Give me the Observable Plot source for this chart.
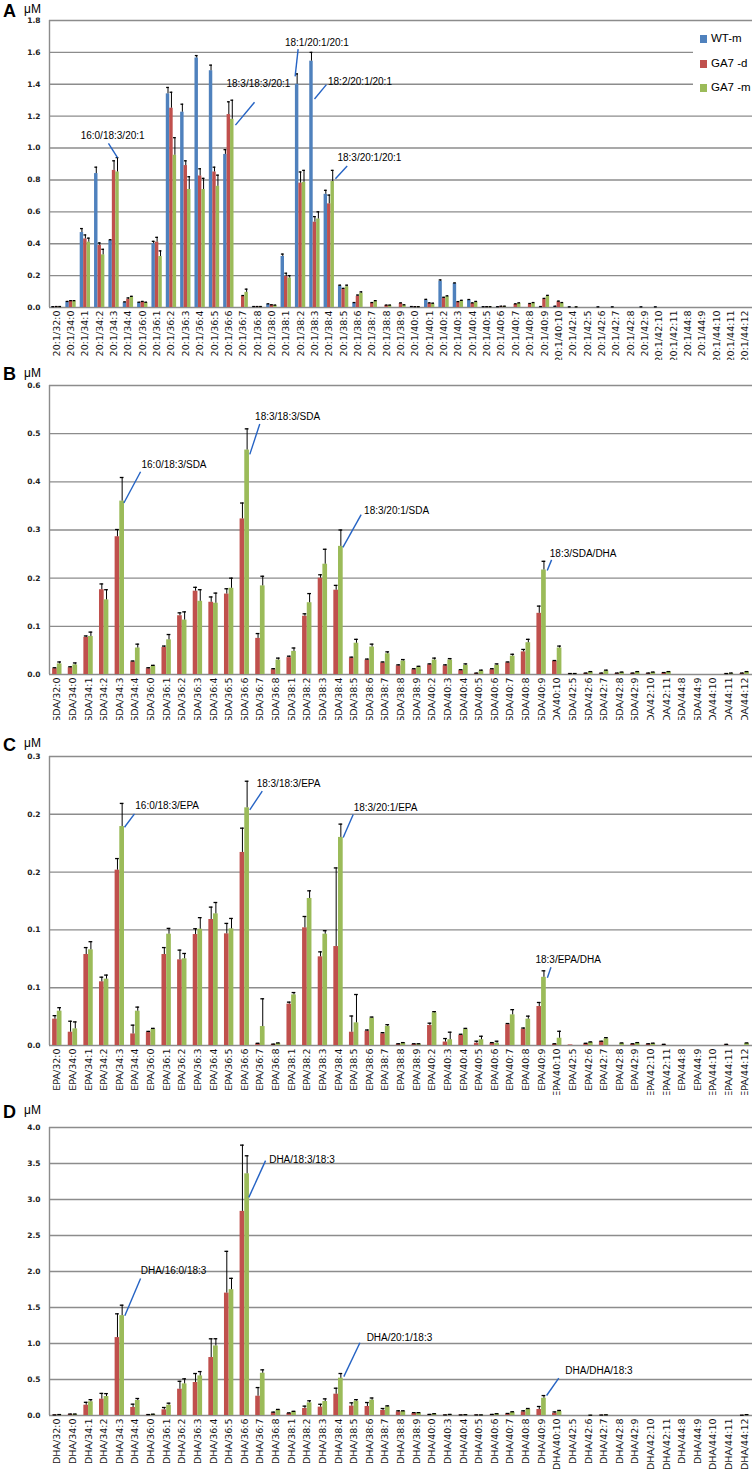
<!DOCTYPE html>
<html><head><meta charset="utf-8">
<script src="https://cdn.jsdelivr.net/npm/d3@7"></script>
<script src="https://cdn.jsdelivr.net/npm/@observablehq/plot@0.6"></script>
<style>
body{margin:0;background:#fff;width:754px;overflow:hidden;}
.panel{position:relative;width:754px;}
.letter{position:absolute;left:3px;font:bold 18px "Liberation Sans",Arial,sans-serif;line-height:18px;color:#000;}
.unit{position:absolute;left:24px;font:12px "Liberation Sans",Arial,sans-serif;line-height:12px;color:#000;}
.legend{position:absolute;left:693px;top:25px;width:61px;height:74px;background:#fff;}
.legend .row{position:absolute;left:7px;font:11.5px "Liberation Sans",Arial,sans-serif;line-height:12px;white-space:nowrap;}
.legend .sw{display:inline-block;width:7px;height:8px;margin-right:4px;vertical-align:-1px;}
</style></head><body><div id="chart"></div>
<script>
// ---------- Panel A (20:1 TAGs) ----------
const prefixA = "20:1/";
const catsA = ["32:0","34:0","34:1","34:2","34:3","34:4","36:0","36:1","36:2","36:3","36:4","36:5","36:6","36:7","36:8","38:0","38:1","38:2","38:3","38:4","38:5","38:6","38:7","38:8","38:9","40:0","40:1","40:2","40:3","40:4","40:5","40:6","40:7","40:8","40:9","40:10","42:4","42:5","42:6","42:7","42:8","42:9","42:10","42:11","44:8","44:9","44:10","44:11","44:12"];
const wtA    = [0.003,0.035,0.47,0.84,0.42,0.03,0.03,0.40,1.34,1.225,1.565,1.485,0.96,0,0.004,0.02,0.32,1.40,1.545,0.71,0.135,0.028,0,0,0,0.004,0.046,0.165,0.15,0.046,0.003,0.003,0,0,0.004,0.006,0.002,0,0.002,0.002,0,0.002,0.002,0,0,0,0,0,0];
const wtAErr = [0.002,0.003,0.025,0.04,0.005,0.005,0.003,0.015,0.04,0.05,0.015,0.035,0.03,0,0.002,0.003,0.015,0.065,0.055,0.025,0.005,0.003,0,0,0,0.002,0.005,0.008,0.004,0.004,0.002,0.002,0,0,0.002,0.002,0.002,0,0.002,0.002,0,0.002,0.002,0,0,0,0,0,0];
const dA     = [0.004,0.04,0.43,0.39,0.86,0.052,0.035,0.41,1.25,0.89,0.825,0.85,1.21,0.07,0.004,0.015,0.195,0.78,0.535,0.65,0.115,0.07,0.028,0.013,0.025,0.003,0.025,0.058,0.034,0.025,0.003,0.006,0.019,0.021,0.053,0.036,0,0,0,0,0,0,0,0,0,0,0,0,0];
const dAErr  = [0.002,0.003,0.025,0.015,0.06,0.008,0.003,0.03,0.10,0.03,0.045,0.03,0.08,0.005,0.002,0.002,0.02,0.07,0.035,0.055,0.005,0.008,0.003,0.002,0.004,0.002,0.004,0.006,0.003,0.004,0.002,0.002,0.004,0.004,0.004,0.004,0,0,0,0,0,0,0,0,0,0,0,0,0];
const mA     = [0.004,0.04,0.41,0.33,0.85,0.065,0.03,0.32,0.955,0.74,0.74,0.76,1.18,0.095,0.004,0.013,0.185,0.785,0.555,0.79,0.13,0.09,0.04,0.013,0.015,0.003,0.023,0.068,0.042,0.034,0.003,0.006,0.025,0.027,0.07,0.027,0.002,0,0,0,0,0,0,0,0,0,0,0,0];
const mAErr  = [0.002,0.003,0.025,0.035,0.09,0.005,0.003,0.035,0.11,0.08,0.07,0.07,0.12,0.02,0.002,0.002,0.015,0.075,0.045,0.07,0.01,0.008,0.003,0.002,0.002,0.002,0.004,0.005,0.003,0.004,0.002,0.002,0.004,0.004,0.006,0.004,0.002,0,0,0,0,0,0,0,0,0,0,0,0];
const ticksA = [0,0.2,0.4,0.6,0.8,1.0,1.2,1.4,1.6,1.8];
const tickLabelsA = ["0.0","0.2","0.4","0.6","0.8","1.0","1.2","1.4","1.6","1.8"];
const annLabelsA = ["16:0/18:3/20:1","18:3/18:3/20:1","18:1/20:1/20:1","18:2/20:1/20:1","18:3/20:1/20:1"];
const annTextA = [[3.9,1.075],[14.06,1.406],[18.14,1.66],[21.14,1.4125],[21.8,0.9375]];
const annLineA = [[3.61,1.03,4.24,0.94],[13.79,1.2875,12.46,1.144],[16.83,1.62,16.62,1.45],[18.8,1.398,17.97,1.308],[20.25,0.8875,19.43,0.808]];

// ---------- Panels B, C (SDA / EPA TAGs) ----------
const prefixB = "SDA/";
const prefixC = "EPA/";
const catsBC = ["32:0","34:0","34:1","34:2","34:3","34:4","36:0","36:1","36:2","36:3","36:4","36:5","36:6","36:7","36:8","38:1","38:2","38:3","38:4","38:5","38:6","38:7","38:8","38:9","40:2","40:3","40:4","40:5","40:6","40:7","40:8","40:9","40:10","42:5","42:6","42:7","42:8","42:9","42:10","42:11","44:8","44:9","44:10","44:11","44:12"];
const dB    = [0.012,0.014,0.077,0.176,0.286,0.026,0.012,0.056,0.122,0.173,0.150,0.167,0.323,0.075,0.010,0.035,0.121,0.200,0.175,0.034,0.030,0.024,0.018,0.010,0.020,0.018,0.008,0.002,0.010,0.024,0.047,0.127,0.027,0.001,0.002,0.002,0.002,0.002,0.002,0.003,0,0,0,0.001,0.002];
const dBErr = [0.002,0.002,0.003,0.012,0.015,0.002,0.002,0.003,0.006,0.008,0.011,0.011,0.033,0.010,0.002,0.003,0.005,0.007,0.010,0.002,0.002,0.002,0.002,0.002,0.002,0.002,0.002,0.001,0.002,0.002,0.005,0.015,0.002,0.001,0.001,0.001,0.001,0.001,0.001,0.001,0,0,0,0.001,0.001];
const mB    = [0.022,0.020,0.079,0.155,0.360,0.055,0.017,0.072,0.113,0.152,0.148,0.179,0.466,0.184,0.030,0.048,0.149,0.229,0.266,0.065,0.057,0.043,0.028,0.015,0.030,0.030,0.019,0.007,0.019,0.038,0.066,0.217,0.055,0.001,0.005,0.007,0.004,0.005,0.004,0.005,0,0,0,0.002,0.005];
const mBErr = [0.004,0.004,0.009,0.021,0.049,0.008,0.002,0.011,0.017,0.024,0.021,0.021,0.044,0.020,0.004,0.007,0.019,0.031,0.034,0.008,0.006,0.004,0.003,0.002,0.004,0.003,0.003,0.002,0.003,0.004,0.007,0.018,0.004,0.001,0.001,0.002,0.001,0.001,0.001,0.001,0,0,0,0.001,0.001];
const ticksB = [0,0.1,0.2,0.3,0.4,0.5,0.6];
const tickLabelsB = ["0.0","0.1","0.2","0.3","0.4","0.5","0.6"];
const annLabelsB = ["16:0/18:3/SDA","18:3/18:3/SDA","18:3/20:1/SDA","18:3/SDA/DHA"];
const annTextB = [[7.47,0.4345],[14.74,0.534],[21.72,0.3405],[33.66,0.2505]];
const annLineB = [[5.33,0.421,4.26,0.356],[12.96,0.52,12.32,0.457],[19.45,0.332,18.28,0.264],[31.64,0.238,31.36,0.216]];

const dC    = [0.0228,0.0115,0.0787,0.0551,0.1517,0.010,0.0112,0.0787,0.0741,0.096,0.109,0.0966,0.167,0.0014,0.0009,0.0358,0.1018,0.0767,0.0856,0.0115,0.0124,0.0101,0.001,0.001,0.0173,0.003,0.0087,0.002,0.002,0.018,0.0141,0.0337,0.001,0.0005,0.0014,0.0032,0,0.001,0.001,0.0005,0,0,0,0.0005,0];
const dCErr = [0.003,0.0095,0.006,0.004,0.010,0.0076,0.001,0.006,0.0084,0.005,0.0107,0.009,0.021,0.0005,0.0003,0.0017,0.0098,0.0043,0.068,0.014,0.001,0.001,0.0005,0.0005,0.002,0.003,0.001,0.0017,0.0005,0.001,0.001,0.0035,0.0005,0,0.0005,0.0005,0,0.0005,0.0005,0.0005,0,0,0,0.0005,0];
const mC    = [0.0297,0.0144,0.0828,0.0574,0.1894,0.0297,0.0138,0.0963,0.075,0.1006,0.1139,0.1009,0.2056,0.0164,0.0017,0.0438,0.1272,0.0963,0.180,0.0196,0.0236,0.0165,0.002,0.001,0.0283,0.005,0.0138,0.005,0.002,0.0265,0.0228,0.059,0.0063,0,0.0026,0.0058,0.0017,0.002,0.0015,0,0,0,0,0,0.0017];
const mCErr = [0.003,0.006,0.007,0.0035,0.020,0.0035,0.001,0.005,0.0046,0.010,0.0098,0.009,0.023,0.024,0.0005,0.002,0.0066,0.003,0.0115,0.0245,0.001,0.0015,0.0005,0.0005,0.001,0.0065,0.001,0.003,0.0017,0.0045,0.0026,0.0056,0.006,0,0.0005,0.001,0.0005,0.0005,0.0005,0,0,0,0,0,0.0005];
const ticksC = [0,0.05,0.1,0.15,0.2,0.25];
const tickLabelsC = ["0.0","0.1","0.1","0.2","0.2","0.3"];
const annLabelsC = ["16:0/18:3/EPA","18:3/18:3/EPA","18:3/20:1/EPA","18:3/EPA/DHA"];
const annTextC = [[7.03,0.2073],[14.8,0.2264],[21.01,0.2056],[32.7,0.0744]];
const annLineC = [[4.94,0.2004,4.30,0.1888],[13.12,0.22,12.32,0.2039],[18.94,0.1998,18.3,0.180],[31.6,0.0677,31.37,0.0586]];

// ---------- Panel D (DHA TAGs) ----------
const prefixD = "DHA/";
const catsD = ["32:0","34:0","34:1","34:2","34:3","34:4","36:0","36:1","36:2","36:3","36:4","36:5","36:6","36:7","36:8","38:1","38:2","38:3","38:4","38:5","38:6","38:7","38:8","38:9","40:0","40:3","40:4","40:5","40:6","40:7","40:8","40:9","40:10","42:5","42:6","42:7","42:8","42:9","42:10","42:11","44:8","44:9","44:10","44:11","44:12"];
const dD    = [0.005,0.015,0.143,0.227,1.082,0.111,0.01,0.079,0.365,0.458,0.805,1.70,2.835,0.268,0.037,0.028,0.097,0.116,0.296,0.13,0.125,0.07,0.05,0.028,0.01,0.005,0.005,0.005,0.01,0.02,0.05,0.083,0.032,0,0,0.003,0,0,0,0,0,0,0,0,0.002];
const dDErr = [0.003,0.005,0.04,0.08,0.33,0.046,0.003,0.032,0.11,0.125,0.26,0.58,0.92,0.12,0.01,0.008,0.033,0.04,0.083,0.046,0.055,0.027,0.015,0.012,0.005,0.003,0.003,0.003,0.005,0.008,0.015,0.042,0.018,0,0,0.003,0,0,0,0,0,0,0,0,0.002];
const mD    = [0.01,0.015,0.19,0.264,1.387,0.208,0.015,0.143,0.439,0.55,0.966,1.748,3.357,0.587,0.074,0.05,0.176,0.194,0.518,0.2,0.213,0.12,0.055,0.032,0.02,0.01,0.008,0.005,0.02,0.042,0.083,0.24,0.055,0,0.002,0.006,0,0,0,0,0,0,0,0,0.008];
const mDErr = [0.003,0.005,0.03,0.04,0.145,0.028,0.003,0.028,0.07,0.06,0.10,0.157,0.25,0.047,0.01,0.008,0.028,0.037,0.065,0.02,0.03,0.014,0.01,0.008,0.005,0.005,0.003,0.003,0.005,0.01,0.014,0.037,0.015,0,0.002,0.003,0,0,0,0,0,0,0,0,0.004];
const ticksD = [0,0.5,1.0,1.5,2.0,2.5,3.0,3.5,4.0];
const tickLabelsD = ["0.0","0.5","1.0","1.5","2.0","2.5","3.0","3.5","4.0"];
const annLabelsD = ["DHA/16:0/18:3","DHA/18:3/18:3","DHA/20:1/18:3","DHA/DHA/18:3"];
const annTextD = [[7.44,2.01],[15.66,3.556],[21.9,1.074],[34.67,0.625]];
const annLineD = [[5.33,1.903,4.32,1.385],[13.33,3.54,12.26,3.03],[19.37,1.01,18.34,0.54],[32.1,0.518,31.32,0.278]];

const seriesNames = ["WT-m","GA7 -d","GA7 -m"];
const seriesColors = ["#4F81BD","#C0504D","#9BBB59"];

const GRID = "#8c8c8c";
const FONT = "Liberation Sans, Arial, sans-serif";
const TICKFONT = "DejaVu Sans, Verdana, sans-serif";

function panel(cfg) {
  const {labels, series, ticks, tickLabels, height, mt, mb, w, annLabels, annText, annLine, letter, letterTop, unitTop, legend} = cfg;
  const n = labels.length;
  const k = series.length;
  const bars = series.map((s, si) => s.values.map((v, i) => {
    const x1 = i - k * w / 2 + si * w;
    return {i, v, e: s.errs[i], x1, x2: x1 + w, xc: x1 + w / 2};
  }));
  const errs = bars.flat().filter(d => d.e > 0);
  const ann = annLabels.map((label, j) => ({label, tx: annText[j][0], ty: annText[j][1],
    x1: annLine[j][0], y1: annLine[j][1], x2: annLine[j][2], y2: annLine[j][3]}));
  const yMax = ticks[ticks.length - 1];
  const svg = Plot.plot({
    width: 754, height, marginTop: mt, marginBottom: mb, marginLeft: 49, marginRight: 2,
    style: {background: "white", overflow: "visible"},
    x: {domain: [-0.5, n - 0.5]},
    y: {domain: [0, yMax]},
    marks: [
      Plot.ruleY(ticks, {stroke: GRID, strokeWidth: 1.4}),
      Plot.ruleX([-0.5], {stroke: GRID, strokeWidth: 1.4}),
      ...series.map((s, si) => Plot.rectY(bars[si].filter(d => d.v > 0), {x1: "x1", x2: "x2", y: "v", fill: s.color, inset: 0})),
      Plot.ruleX(errs, {x: "xc", y1: "v", y2: d => d.v + d.e, stroke: "#000", strokeWidth: 1}),
      Plot.ruleY(errs, {y: d => d.v + d.e, x1: d => d.xc - w * 0.4, x2: d => d.xc + w * 0.4, stroke: "#000", strokeWidth: 1.3}),
      Plot.link(ann, {x1: "x1", y1: "y1", x2: "x2", y2: "y2", stroke: "#2563c4", strokeWidth: 1.4}),
      Plot.text(ann, {x: "tx", y: "ty", text: "label", fontSize: 10, fontFamily: FONT, fill: "#000"}),
      Plot.axisY({ticks, tickFormat: d => tickLabels[ticks.indexOf(d)], tickSize: 0, tickPadding: 9, fontSize: 7.5, fontWeight: "bold", fontFamily: TICKFONT, fill: "#222", label: null}),
      Plot.axisX({ticks: d3.range(n), tickFormat: i => labels[i], tickRotate: -90, tickSize: 0, tickPadding: 3, fontSize: 9.5, fontFamily: TICKFONT, fill: "#111", label: null})
    ]
  });
  const div = document.createElement("div");
  div.className = "panel";
  div.style.height = height + "px";
  div.appendChild(svg);
  const L = document.createElement("div");
  L.className = "letter"; L.style.top = letterTop + "px"; L.textContent = letter;
  const U = document.createElement("div");
  U.className = "unit"; U.style.top = unitTop + "px"; U.textContent = "μM";
  div.appendChild(L); div.appendChild(U);
  if (legend) {
    const lg = document.createElement("div");
    lg.className = "legend";
    series.forEach((s, si) => {
      const r = document.createElement("div");
      r.className = "row"; r.style.top = (7 + si * 24.5) + "px";
      const sw = document.createElement("span");
      sw.className = "sw"; sw.style.background = s.color;
      r.appendChild(sw); r.appendChild(document.createTextNode(s.name));
      lg.appendChild(r);
    });
    div.appendChild(lg);
  }
  document.getElementById("chart").appendChild(div);
}

panel({
  labels: catsA.map(c => prefixA + c),
  series: [
    {name: seriesNames[0], color: seriesColors[0], values: wtA, errs: wtAErr},
    {name: seriesNames[1], color: seriesColors[1], values: dA, errs: dAErr},
    {name: seriesNames[2], color: seriesColors[2], values: mA, errs: mAErr}
  ],
  ticks: ticksA, tickLabels: tickLabelsA, height: 360, mt: 20, mb: 53, w: 0.24,
  annLabels: annLabelsA, annText: annTextA, annLine: annLineA,
  letter: "A", letterTop: 2, unitTop: 3, legend: true
});
panel({
  labels: catsBC.map(c => prefixB + c),
  series: [
    {name: seriesNames[1], color: seriesColors[1], values: dB, errs: dBErr},
    {name: seriesNames[2], color: seriesColors[2], values: mB, errs: mBErr}
  ],
  ticks: ticksB, tickLabels: tickLabelsB, height: 360, mt: 25, mb: 46, w: 0.3,
  annLabels: annLabelsB, annText: annTextB, annLine: annLineB,
  letter: "B", letterTop: 5, unitTop: 6.5
});
panel({
  labels: catsBC.map(c => prefixC + c),
  series: [
    {name: seriesNames[1], color: seriesColors[1], values: dC, errs: dCErr},
    {name: seriesNames[2], color: seriesColors[2], values: mC, errs: mCErr}
  ],
  ticks: ticksC, tickLabels: tickLabelsC, height: 375, mt: 36, mb: 50, w: 0.3,
  annLabels: annLabelsC, annText: annTextC, annLine: annLineC,
  letter: "C", letterTop: 16, unitTop: 17
});
panel({
  labels: catsD.map(c => prefixD + c),
  series: [
    {name: seriesNames[1], color: seriesColors[1], values: dD, errs: dDErr},
    {name: seriesNames[2], color: seriesColors[2], values: mD, errs: mDErr}
  ],
  ticks: ticksD, tickLabels: tickLabelsD, height: 379, mt: 32, mb: 59, w: 0.3,
  annLabels: annLabelsD, annText: annTextD, annLine: annLineD,
  letter: "D", letterTop: 8, unitTop: 9
});
</script>
</body></html>
